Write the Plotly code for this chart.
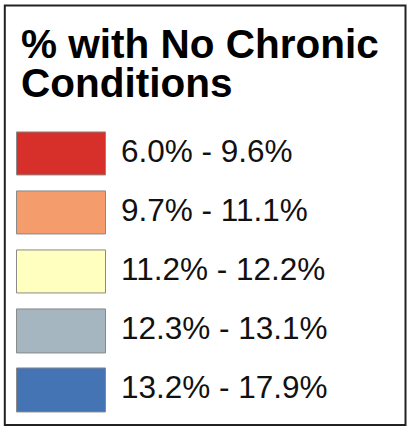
import plotly.graph_objects as go

title_lines = ["% with No Chronic", "Conditions"]
class_labels = ["6.0% - 9.6%", "9.7% - 11.1%", "11.2% - 12.2%", "12.3% - 13.1%", "13.2% - 17.9%"]
class_colors = ["#D7302A", "#F49C6B", "#FFFFC0", "#A6B6C0", "#4574B4"]
swatch_size = [1, 1, 1, 1, 1]
label_pos = [1.175] * 5

W, H = 409, 430
FONT = "Arial, 'Liberation Sans', Helvetica, sans-serif"

fig = go.Figure()
fig.add_trace(go.Bar(
    y=class_labels, x=swatch_size, orientation="h",
    marker=dict(color=class_colors, line=dict(color="#8a8a8a", width=1)),
    width=0.736, hoverinfo="skip", showlegend=False,
))
fig.add_trace(go.Scatter(
    y=class_labels, x=label_pos, mode="text", text=class_labels,
    textposition="middle right",
    textfont=dict(family=FONT, size=31.5, color="#111111"),
    hoverinfo="skip", showlegend=False, cliponaxis=False,
))

x0px, x1px = 17.0, 105.5
scale = x1px - x0px
fig.update_layout(
    width=W, height=H,
    margin=dict(l=0, r=0, t=0, b=0),
    paper_bgcolor="white", plot_bgcolor="white",
    xaxis=dict(range=[-x0px / scale, (W - x0px) / scale], visible=False, domain=[0, 1], fixedrange=True),
    yaxis=dict(autorange="reversed", visible=False, domain=[1 - 419.85 / H, 1 - 124.45 / H], fixedrange=True),
    bargap=0,
    shapes=[dict(type="rect", xref="paper", yref="paper",
                 x0=4.8 / W, x1=405.5 / W, y0=1 - 425 / H, y1=1 - 5.5 / H,
                 line=dict(color="#222222", width=2), fillcolor="rgba(0,0,0,0)")],
    annotations=[
        dict(text="<b>%s</b>" % title_lines[0], xref="paper", yref="paper",
             x=19 / W, y=1 - 43.5 / H, xanchor="left", yanchor="middle", showarrow=False,
             height=38, valign="middle",
             font=dict(family=FONT, size=40.5, color="#000000")),
        dict(text="<b>%s</b>" % title_lines[1], xref="paper", yref="paper",
             x=19 / W, y=1 - 82.5 / H, xanchor="left", yanchor="middle", showarrow=False,
             height=38, valign="middle",
             font=dict(family=FONT, size=40.5, color="#000000")),
    ],
)

fig.write_html("out.html", config={"displayModeBar": False},
               post_script="document.body.style.margin='0';document.body.style.overflow='hidden';")
